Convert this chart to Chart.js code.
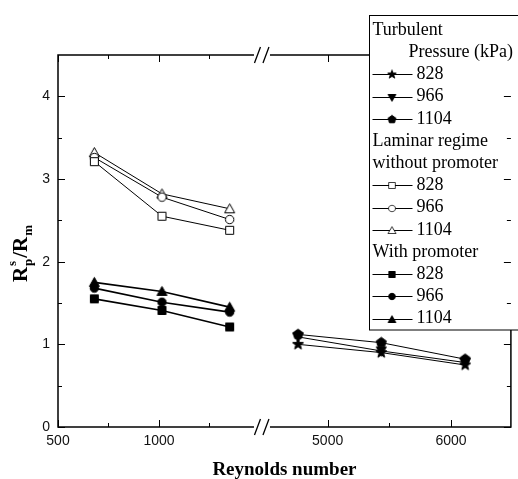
<!DOCTYPE html>
<html>
<head>
<meta charset="utf-8">
<script src="https://cdn.jsdelivr.net/npm/chart.js@4.4.1/dist/chart.umd.min.js"></script>
<style>
  html, body { margin: 0; padding: 0; background: #fff; }
  canvas { display: block; }
</style>
</head>
<body>
<canvas id="chart" width="518" height="479"></canvas>
<script>
// ============================================================
// DATA
// ============================================================
const reLaminar = [680, 1015, 1350];
const reTurbulent = [4760, 5435, 6115];

const turb828 = [1.00, 0.90, 0.75];
const turb966 = [1.09, 0.92, 0.78];
const turb1104 = [1.12, 1.02, 0.82];

const lam828 = [3.21, 2.55, 2.38];
const lam966 = [3.26, 2.78, 2.51];
const lam1104 = [3.32, 2.82, 2.64];

const prom828 = [1.55, 1.41, 1.21];
const prom966 = [1.68, 1.51, 1.39];
const prom1104 = [1.75, 1.64, 1.45];

const xLeftTicks = [500, 1000];
const xLeftMinor = [750, 1250];
const xRightTicks = [5000, 6000];
const xRightMinor = [5500];
const yTicks = [0, 1, 2, 3, 4];
const yMinor = [0.5, 1.5, 2.5, 3.5];

// ============================================================
// MARKERS
// ============================================================
function marker(shape, filled) {
    const c = document.createElement('canvas');
    c.width = 13; c.height = 13;
    const g = c.getContext('2d');
    g.translate(6.5, 6.5);
    g.beginPath();
    if (shape === 'square') g.rect(-4, -4, 8, 8);
    else if (shape === 'circle') g.arc(0, 0, 4.2, 0, Math.PI * 2);
    else if (shape === 'triangle') { g.moveTo(0, -5); g.lineTo(5, 4); g.lineTo(-5, 4); g.closePath(); }
    else if (shape === 'down') { g.moveTo(0, 5); g.lineTo(5, -4); g.lineTo(-5, -4); g.closePath(); }
    else if (shape === 'star') {
        for (let i = 0; i < 10; i++) {
            const r = i % 2 ? 2.4 : 5.8, a = -Math.PI / 2 + i * Math.PI / 5;
            g.lineTo(r * Math.cos(a), r * Math.sin(a));
        }
        g.closePath();
    } else if (shape === 'pentagon') {
        for (let i = 0; i < 5; i++) {
            const a = -Math.PI / 2 + i * 2 * Math.PI / 5;
            g.lineTo(5.3 * Math.cos(a), 5.3 * Math.sin(a));
        }
        g.closePath();
    }
    g.fillStyle = filled ? '#000' : '#fff';
    g.fill();
    g.lineWidth = 1; g.strokeStyle = '#000'; g.stroke();
    return c;
}

function series(label, xs, ys, axis, shape, filled, width) {
    return {
        label: label,
        data: xs.map((x, i) => ({ x: x, y: ys[i] })),
        xAxisID: axis,
        showLine: true,
        borderColor: '#000',
        borderWidth: width,
        pointStyle: marker(shape, filled),
        pointRadius: 5,
        pointHoverRadius: 5
    };
}

const datasets = [
    series('828', reTurbulent, turb828, 'xr', 'star', true, 1),
    series('966', reTurbulent, turb966, 'xr', 'down', true, 1),
    series('1104', reTurbulent, turb1104, 'xr', 'pentagon', true, 1),
    series('828', reLaminar, lam828, 'xl', 'square', false, 1),
    series('966', reLaminar, lam966, 'xl', 'circle', false, 1),
    series('1104', reLaminar, lam1104, 'xl', 'triangle', false, 1),
    series('828', reLaminar, prom828, 'xl', 'square', true, 1.6),
    series('966', reLaminar, prom966, 'xl', 'circle', true, 1.6),
    series('1104', reLaminar, prom1104, 'xl', 'triangle', true, 1.6)
];

// legend rows: header text or dataset index
const legendRows = [
    { text: 'Turbulent' },
    { text: 'Pressure (kPa)', indent: 36 },
    { ds: 0 }, { ds: 1 }, { ds: 2 },
    { text: 'Laminar regime' },
    { text: 'without promoter' },
    { ds: 3 }, { ds: 4 }, { ds: 5 },
    { text: 'With promoter' },
    { ds: 6 }, { ds: 7 }, { ds: 8 }
];

// ============================================================
// FRAME / TITLES / LEGEND PLUGIN
// ============================================================
const framePlugin = {
    id: 'frame',
    afterDraw(chart) {
        const ctx = chart.ctx;
        const a = chart.chartArea;
        const xl = chart.scales.xl, xr = chart.scales.xr, y = chart.scales.y;
        const L = a.left, R = a.right - 0.5, T = a.top, B = a.bottom;
        ctx.save();
        ctx.strokeStyle = '#000';
        ctx.lineWidth = 1.5;
        ctx.strokeRect(L, T, R - L, B - T);

        // ticks (inward)
        ctx.lineWidth = 1;
        ctx.beginPath();
        const yt = (v, len) => {
            const p = Math.round(y.getPixelForValue(v)) + 0.5;
            ctx.moveTo(L, p); ctx.lineTo(L + len, p);
        };
        yTicks.forEach(v => yt(v, 7));
        yMinor.forEach(v => yt(v, 4));
        const xt = (sc, v, len) => {
            const p = Math.round(sc.getPixelForValue(v)) + 0.5;
            ctx.moveTo(p, B); ctx.lineTo(p, B - len);
            ctx.moveTo(p, T); ctx.lineTo(p, T + len);
        };
        xLeftTicks.forEach(v => xt(xl, v, 7));
        xLeftMinor.forEach(v => xt(xl, v, 4));
        xRightTicks.forEach(v => xt(xr, v, 7));
        xRightMinor.forEach(v => xt(xr, v, 4));
        ctx.stroke();

        // axis break
        const bc = xl.right - 4;
        ctx.fillStyle = '#fff';
        [T, B].forEach(yy => {
            ctx.fillRect(bc - 8, yy - 2, 16, 4);
            ctx.beginPath();
            [bc - 4.5, bc + 4].forEach(cx => {
                ctx.moveTo(cx - 3, yy + 8); ctx.lineTo(cx + 3, yy - 8);
            });
            ctx.lineWidth = 1.3;
            ctx.stroke();
        });

        // legend
        const lx = 369.5, ly = 15.5, lw = 518 - lx, lh = 330 - ly;
        ctx.fillStyle = '#fff';
        ctx.fillRect(lx, ly, lw, lh);
        ctx.lineWidth = 1;
        ctx.strokeRect(lx, ly, lw + 2, lh);
        ctx.fillStyle = '#000';
        ctx.font = '18px "Liberation Serif", "Times New Roman", serif';
        ctx.textBaseline = 'middle';
        ctx.textAlign = 'left';
        legendRows.forEach((row, i) => {
            const cy = 30 + i * 22.2;
            if (row.ds === undefined) {
                ctx.fillText(row.text, lx + 3 + (row.indent || 0), cy);
            } else {
                const ds = chart.data.datasets[row.ds];
                const my = Math.round(cy) + 0.5;
                ctx.beginPath();
                ctx.moveTo(lx + 3, my); ctx.lineTo(lx + 43, my);
                ctx.stroke();
                const s = 0.8, img = ds.pointStyle;
                ctx.drawImage(img, lx + 22.5 - 6.5 * s, my - 6.5 * s, 13 * s, 13 * s);
                ctx.fillText(ds.label, lx + 47, cy);
            }
        });

        // right axis ticks on top of legend
        ctx.beginPath();
        const rt = (v, len) => {
            const p = Math.round(y.getPixelForValue(v)) + 0.5;
            ctx.moveTo(R, p); ctx.lineTo(R - len, p);
        };
        yTicks.forEach(v => rt(v, 7));
        yMinor.forEach(v => rt(v, 4));
        ctx.stroke();

        // x title
        ctx.font = 'bold 19px "Liberation Serif", "Times New Roman", serif';
        ctx.textAlign = 'center';
        ctx.textBaseline = 'alphabetic';
        ctx.fillText('Reynolds number', (L + R) / 2, 475);

        // y title: R_p^s / R_m
        ctx.translate(27, 253);
        ctx.rotate(-Math.PI / 2);
        const big = 'bold 21px "Liberation Serif", serif';
        const small = 'bold 13px "Liberation Serif", serif';
        const parts = [
            { t: 'R', f: big, dy: 0 },
            { t: 'p', f: small, dy: 5, stackWith: 's' },
            { t: '/R', f: big, dy: 0 },
            { t: 'm', f: small, dy: 5 }
        ];
        let total = 0;
        parts.forEach(p => { ctx.font = p.f; p.w = ctx.measureText(p.t).width; total += p.w + 1; });
        let x = -total / 2;
        ctx.textAlign = 'left';
        parts.forEach(p => {
            ctx.font = p.f;
            ctx.fillText(p.t, x, p.dy);
            if (p.stackWith) ctx.fillText(p.stackWith, x, -11);
            x += p.w + 1;
        });
        ctx.restore();
    }
};

// ============================================================
// CHART
// ============================================================
const tickFont = { family: '"Liberation Sans", Arial, sans-serif', size: 14 };
const plainTick = v => String(v);

new Chart(document.getElementById('chart').getContext('2d'), {
    type: 'scatter',
    data: { datasets: datasets },
    options: {
        responsive: false,
        animation: false,
        devicePixelRatio: 1,
        layout: { padding: { top: 55, right: 0, left: 0, bottom: 0 } },
        plugins: { legend: { display: false }, tooltip: { enabled: false } },
        scales: {
            xl: {
                type: 'linear', position: 'bottom', stack: 'x', stackWeight: 211,
                min: 500, max: 1530,
                grid: { display: false, drawTicks: false }, border: { display: false },
                ticks: { font: tickFont, color: '#111', padding: 6, maxRotation: 0, callback: plainTick },
                afterBuildTicks: s => { s.ticks = xLeftTicks.map(v => ({ value: v })); },
                afterFit: s => { s.height = 52; }
            },
            xr: {
                type: 'linear', position: 'bottom', stack: 'x', stackWeight: 249,
                min: 4500, max: 6490,
                grid: { display: false, drawTicks: false }, border: { display: false },
                ticks: { font: tickFont, color: '#111', padding: 6, maxRotation: 0, callback: plainTick },
                afterBuildTicks: s => { s.ticks = xRightTicks.map(v => ({ value: v })); },
                afterFit: s => { s.height = 52; }
            },
            y: {
                type: 'linear', position: 'left', min: 0, max: 4.5,
                grid: { display: false, drawTicks: false }, border: { display: false },
                ticks: { font: tickFont, color: '#111', padding: 8, callback: plainTick },
                afterBuildTicks: s => { s.ticks = yTicks.map(v => ({ value: v })); },
                afterFit: s => { s.width = 58; }
            }
        }
    },
    plugins: [framePlugin]
});
</script>
</body>
</html>
